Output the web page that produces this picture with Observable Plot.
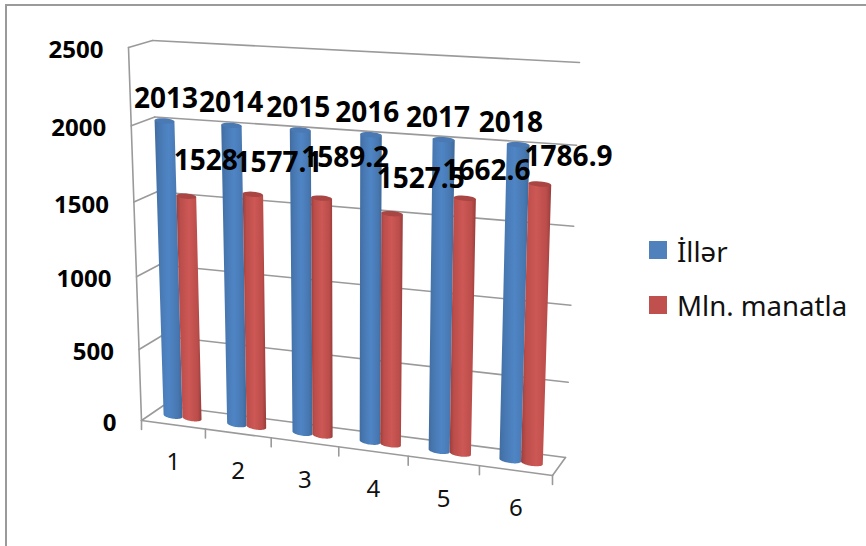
<!DOCTYPE html>
<html>
<head>
<meta charset="utf-8">
<script src="https://cdn.jsdelivr.net/npm/d3@7"></script>
<script src="https://cdn.jsdelivr.net/npm/@observablehq/plot@0.6"></script>
<style>
  html, body { margin: 0; padding: 0; background: #fff; }
  #page { position: relative; width: 866px; height: 546px; overflow: hidden; font-family: "Noto Sans", sans-serif; }
  #edge { position: absolute; left: 5px; top: 4px; right: -5px; bottom: -5px; border-left: 2px solid #9a9a9a; border-top: 2px solid #9a9a9a; }
  #chart { position: absolute; left: 0; top: 0; }
  .key { position: absolute; left: 649px; display: flex; align-items: center; height: 18px; font-size: 27.6px; color: #111; white-space: nowrap; }
  .key i { display: inline-block; width: 18px; height: 18px; margin-right: 10px; }
</style>
</head>
<body>
<div id="page"><div id="edge"></div><div id="chart"></div>
  <div class="key" style="top:242px"><i style="background:#4f81bd;position:relative;top:-1px"></i><span>İllər</span></div>
  <div class="key" style="top:296px"><i style="background:#c0504d"></i><span>Mln. manatla</span></div>
</div>
<script>
// ---- data ----
const categories = [1, 2, 3, 4, 5, 6];
const iller = [2013, 2014, 2015, 2016, 2017, 2018];
const manat = [1528, 1577.1, 1589.2, 1527.5, 1662.6, 1786.9];
const valueTicks = [0, 500, 1000, 1500, 2000, 2500];
const seriesNames = ["İllər", "Mln. manatla"];

// ---- 3D frame: corners of the plot box on the page ----
const W = 866, H = 546, VMAX = 2500, NCAT = 6;
const back  = { bl: [163, 405], br: [565, 457], tl: [152, 40], tr: [579, 62] };
const front = { bl: [141, 420], br: [552, 475], tl: [128, 47], tr: [564, 72] };
const RX = 0.15;               // cylinder half width, in categories
const SHIFT = -0.022;          // group centre relative to the category centre
const lerp = (a, b, t) => a + (b - a) * t;
const corner = (q, u, w, k) => lerp(lerp(q.bl[k], q.br[k], u), lerp(q.tl[k], q.tr[k], u), w);
function project(c, v, d) {    // category position, value, depth (0 front, 1 back) -> page px
  const t = c / NCAT, s = v / VMAX;
  const u = t * (0.92 + 0.08 * t), w = s * (0.94 + 0.06 * s);
  return [0, 1].map(k => lerp(corner(front, u, w, k), corner(back, u, w, k), d));
}
// page px <-> the x (category) and y (value) scales below
const xRange = [front.bl[0], front.br[0]], yRange = [front.bl[1], front.tl[1]];
const toX = px => (px - xRange[0]) / (xRange[1] - xRange[0]) * NCAT;
const toY = py => (py - yRange[0]) / (yRange[1] - yRange[0]) * VMAX;
const pt = ([px, py], extra = {}) => ({ x: toX(px), y: toY(py), ...extra });

// ---- frame lines ----
const seg = (id, a, b) => [pt(a, { id }), pt(b, { id })];
const frame = [
  ...valueTicks.filter(v => v > 0).flatMap(v => seg("wall" + v, project(0, v, 1), project(NCAT, v, 1))),
  ...valueTicks.flatMap(v => seg("side" + v, project(0, v, 0), project(0, v, 1))),
  ...seg("left", project(0, 0, 0), project(0, VMAX, 0)),
  ...seg("floorBack", project(0, 0, 1), project(NCAT, 0, 1)),
  ...seg("floorFront", project(0, 0, 0), project(NCAT, 0, 0)),
  ...seg("floorRight", project(NCAT, 0, 0), project(NCAT, 0, 1))
];
const tickLen = 9;
d3.range(NCAT + 1).forEach(i => {
  const p = project(i, 0, 0);
  frame.push(...seg("tick" + i, p, [p[0], p[1] + tickLen]));
});

// ---- cylinders ----
const ellipse = (c, v, t, ry) => {
  const o = project(c, v, 0.5), r = project(c + RX, v, 0.5);
  return [o[0] + (r[0] - o[0]) * Math.cos(t), o[1] + (r[1] - o[1]) * Math.cos(t) + ry * Math.sin(t)];
};
const arc = (from, to) => d3.range(25).map(i => lerp(from, to, i / 24));
function cylinder(values, offset) {
  const body = [], cap = [];
  values.forEach((v, i) => {
    const c = i + 0.5 + SHIFT + offset;
    const id = "c" + categories[i];
    arc(Math.PI, 0).forEach(t => body.push(pt(ellipse(c, 0, t, 3), { id })));
    arc(0, -Math.PI).forEach(t => body.push(pt(ellipse(c, v, t, 0), { id })));
    arc(0, 2 * Math.PI).forEach(t => cap.push(pt(ellipse(c, v, t, 2.6), { id })));
  });
  return { body, cap };
}
const blue = cylinder(iller, -RX), red = cylinder(manat, RX);

// ---- labels ----
const bold = { fontFamily: "Noto Sans", fontWeight: 700, fill: "#000", text: "t", x: "x", y: "y" };
const axisLabels = valueTicks.map(v => {
  const p = project(0, v, 0);
  return pt([p[0] - 25, p[1] + 3], { t: String(v) });
});
const catLabels = categories.map((c, i) => {
  const p = project(i + 0.5, 0, 0);
  return pt([p[0], p[1] + 38], { t: String(c) });
});
const yearLabels = iller.map((v, i) => {
  const p = project(i + 0.5 - RX, v, 0.5);
  return pt([p[0] - 1.8 * i, p[1] - 22], { t: String(v) });
});
const manatNudge = [[18, -35], [24, -31], [22, -40], [27, -35], [20, -27], [27, -27]];
const manatLabels = manat.map((v, i) => {
  const p = project(i + 0.5 + RX, v, 0.5);
  return pt([p[0] + manatNudge[i][0], p[1] + manatNudge[i][1]], { t: String(v) });
});

const gradient = (id, stops) =>
  `<linearGradient id="${id}" x1="0" x2="1" y1="0" y2="0">` +
  stops.map(([o, c]) => `<stop offset="${o}" stop-color="${c}"/>`).join("") + `</linearGradient>`;
const defs = () => d3.create("svg:defs").html(
  gradient("gBlue", [[0, "#416c9f"], [0.16, "#4777b0"], [0.5, "#4f85c5"], [0.84, "#4777b0"], [1, "#3e6898"]]) +
  gradient("gRed", [[0, "#9a3f3d"], [0.16, "#bb4d4a"], [0.5, "#cd5855"], [0.84, "#bb4d4a"], [1, "#963d3b"]])
).node();

const cyl = (g, fillBody, fillCap) => [
  Plot.line(g.body, { x: "x", y: "y", z: "id", fill: fillBody, stroke: "none", curve: "linear" }),
  Plot.line(g.cap, { x: "x", y: "y", z: "id", fill: fillCap, stroke: "none", curve: "linear" })
];

const plot = Plot.plot({
  width: W, height: H,
  marginTop: 0, marginRight: 0, marginBottom: 0, marginLeft: 0,
  x: { domain: [0, NCAT], range: xRange, axis: null, clamp: false },
  y: { domain: [0, VMAX], range: yRange, axis: null, clamp: false },
  style: { background: "transparent", overflow: "visible" },
  marks: [
    defs,
    Plot.line(frame, { x: "x", y: "y", z: "id", stroke: "#9a9a9a", strokeWidth: 1.6, curve: "linear" }),
    ...cyl(blue, "url(#gBlue)", "#4a79b3"),
    ...cyl(red, "url(#gRed)", "#a94543"),
    Plot.text(axisLabels, { ...bold, fontSize: 24, textAnchor: "end" }),
    Plot.text(catLabels, { x: "x", y: "y", text: "t", fontFamily: "Noto Sans", fontSize: 24, fill: "#111" }),
    Plot.text(yearLabels, { ...bold, fontSize: 28 }),
    Plot.text(manatLabels, { ...bold, fontSize: 28 })
  ]
});
document.getElementById("chart").appendChild(plot);
</script>
</body>
</html>
